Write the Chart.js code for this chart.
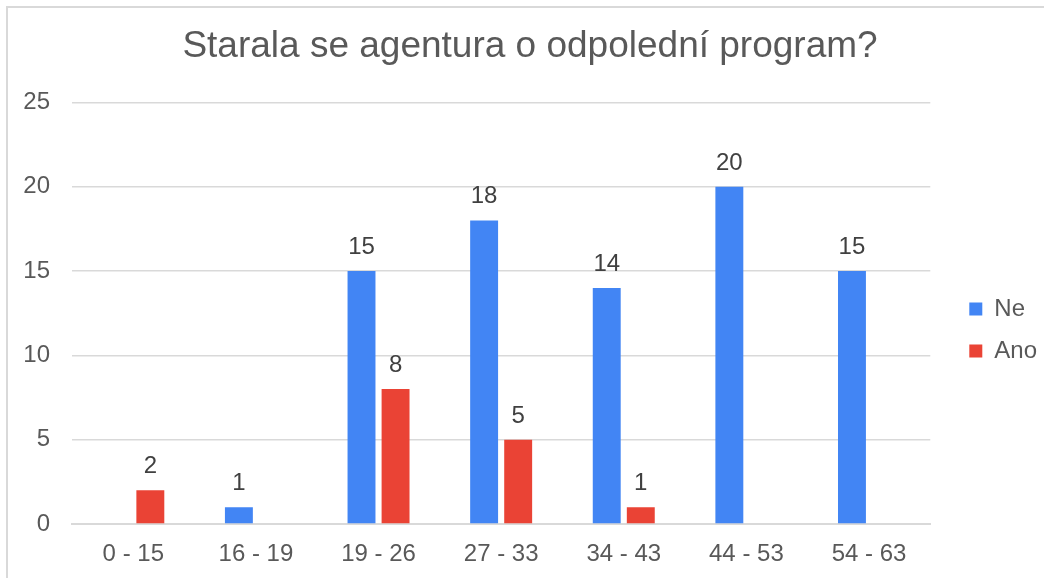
<!DOCTYPE html>
<html>
<head>
<meta charset="utf-8">
<script src="https://cdn.jsdelivr.net/npm/chart.js@4/dist/chart.umd.min.js"></script>
<style>
  html, body { margin: 0; padding: 0; background: #fff; }
  #wrap { position: relative; width: 1044px; height: 578px; overflow: hidden; }
  #frame { position: absolute; left: 6px; top: 6px; width: 1050px; height: 590px;
           border-left: 2px solid #d9d9d9; border-top: 2px solid #d9d9d9; box-sizing: border-box; }
  canvas { position: absolute; left: 0; top: 0; }
</style>
</head>
<body>
<div id="wrap">
  <div id="frame"></div>
  <canvas id="c" width="1044" height="578"></canvas>
</div>
<script>
const titleText = 'Starala se agentura o odpolední program?';
const categories = ['0 - 15', '16 - 19', '19 - 26', '27 - 33', '34 - 43', '44 - 53', '54 - 63'];
const seriesNames = ['Ne', 'Ano'];
const neValues = [null, 1, 15, 18, 14, 20, 15];
const anoValues = [2, null, 8, 5, 1, null, null];
const yTicks = [0, 5, 10, 15, 20, 25];

const FONT = "'Liberation Sans', Arial, sans-serif";

const valueLabels = {
  id: 'valueLabels',
  afterDatasetsDraw(chart) {
    const ctx = chart.ctx;
    ctx.save();
    ctx.font = '24px ' + FONT;
    ctx.fillStyle = '#404040';
    ctx.textAlign = 'center';
    ctx.textBaseline = 'alphabetic';
    chart.data.datasets.forEach((ds, i) => {
      const meta = chart.getDatasetMeta(i);
      meta.data.forEach((bar, j) => {
        const v = ds.data[j];
        if (v === null || v === undefined) return;
        ctx.fillText(String(v), bar.x, bar.y - 17);
      });
    });
    ctx.restore();
  }
};

// nudge the legend block and widen the y-label clip area to match the reference
const layoutTweaks = {
  id: 'layoutTweaks',
  afterLayout(chart) {
    const lg = chart.legend;
    if (lg) {
      const dx = 21, dy = 41;
      lg.left += dx; lg.right += dx;
      lg.top += dy; lg.bottom += dy;
    }
    if (chart.scales.y) chart.scales.y.left = 0;
  }
};

new Chart(document.getElementById('c'), {
  type: 'bar',
  data: {
    labels: categories,
    datasets: [
      { label: seriesNames[0], data: neValues, backgroundColor: '#4285F4' },
      { label: seriesNames[1], data: anoValues, backgroundColor: '#EA4335' }
    ]
  },
  options: {
    responsive: false,
    animation: false,
    layout: { padding: { left: 34, right: 18, top: 8, bottom: 8 } },
    datasets: { bar: { categoryPercentage: 0.5555, barPercentage: 0.82 } },
    plugins: {
      title: {
        display: true,
        text: titleText,
        color: '#595959',
        font: { family: FONT, size: 37, weight: 'normal' },
        padding: { top: 17, bottom: 33 }
      },
      legend: {
        position: 'right',
        labels: {
          color: '#595959',
          font: { family: FONT, size: 24 },
          boxWidth: 13,
          boxHeight: 13,
          padding: 18
        }
      },
      tooltip: { enabled: false }
    },
    scales: {
      x: {
        afterFit(s) { s.height = 46; },
        grid: { display: false, drawTicks: false },
        border: { display: true, color: '#d9d9d9', width: 2 },
        ticks: { color: '#595959', font: { family: FONT, size: 24 }, padding: 16, maxRotation: 0 }
      },
      y: {
        min: 0, max: 25,
        afterFit(s) { s.width = 38; },
        afterBuildTicks(s) { s.ticks = yTicks.map(v => ({ value: v })); },
        grid: { color: '#d9d9d9', lineWidth: 1.5, drawTicks: false },
        border: { display: false },
        ticks: { color: '#595959', font: { family: FONT, size: 24 }, padding: 22 }
      }
    }
  },
  plugins: [valueLabels, layoutTweaks]
});
</script>
</body>
</html>
